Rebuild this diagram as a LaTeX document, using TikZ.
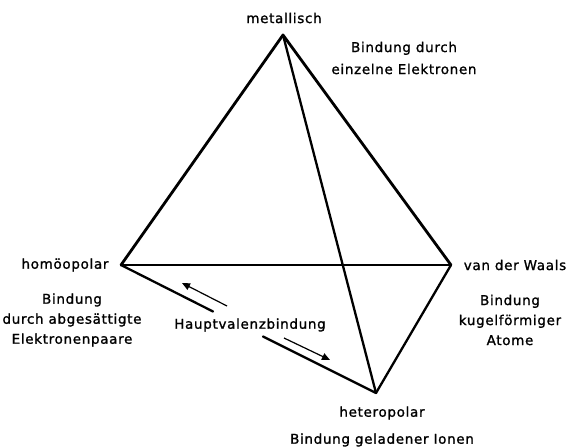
\documentclass[tikz,border=0pt]{standalone}
\usepackage{fontspec}
\setmainfont[LetterSpace=5,FakeBold=1.2]{DejaVu Sans}
\usetikzlibrary{arrows.meta}
\begin{document}
\begin{tikzpicture}[x=1pt,y=-1pt,
  lbl/.style={font=\fontsize{13.5}{20}\selectfont, inner sep=0pt, align=center},
  edgeA/.style={line width=2.8pt, line cap=round, line join=round},
  edgeB/.style={line width=2.3pt, line cap=round},
  edgeC/.style={line width=1.3pt},
  arr/.style={line width=1.2pt, -{Triangle[length=8pt,width=7pt]}}]
\useasboundingbox (0,0) rectangle (571,447);
\coordinate (T) at (283,35);
\coordinate (L) at (121,265);
\coordinate (R) at (451,265);
\coordinate (B) at (376,393);
\coordinate (g1) at (213,311.5);
\coordinate (g2) at (263,336.5);
\draw[edgeC] (L) -- (R);
\draw[edgeA] (L) -- (T) -- (R);
\draw[edgeB] (T) -- (B);
\draw[edgeB] (R) -- (B);
\draw[edgeB] (L) -- (g1);
\draw[edgeB] (g2) -- (B);
\coordinate (a1s) at (227,306);
\coordinate (a1e) at (182,283);
\coordinate (a2s) at (284,338);
\coordinate (a2e) at (330,360);
\draw[arr] (a1s) -- (a1e);
\draw[arr] (a2s) -- (a2e);
\node[lbl] (met) at (284,18) {metallisch};
\node[lbl, font=\fontsize{13.5}{22}\selectfont] (metb) at (404,58) {Bindung durch\\einzelne Elektronen};
\node[lbl] (hom) at (65,265) {homöopolar};
\node[lbl] (homb) at (72,320) {Bindung\\durch abgesättigte\\Elektronenpaare};
\node[lbl] (vdw) at (515,265) {van der Waals};
\node[lbl] (vdwb) at (510,320) {Bindung\\kugelförmiger\\Atome};
\node[lbl] (hv) at (250,325) {Hauptvalenzbindung};
\node[lbl] (het) at (382,413) {heteropolar};
\node[lbl] (hetb) at (382,440) {Bindung geladener Ionen};
\end{tikzpicture}
\end{document}
